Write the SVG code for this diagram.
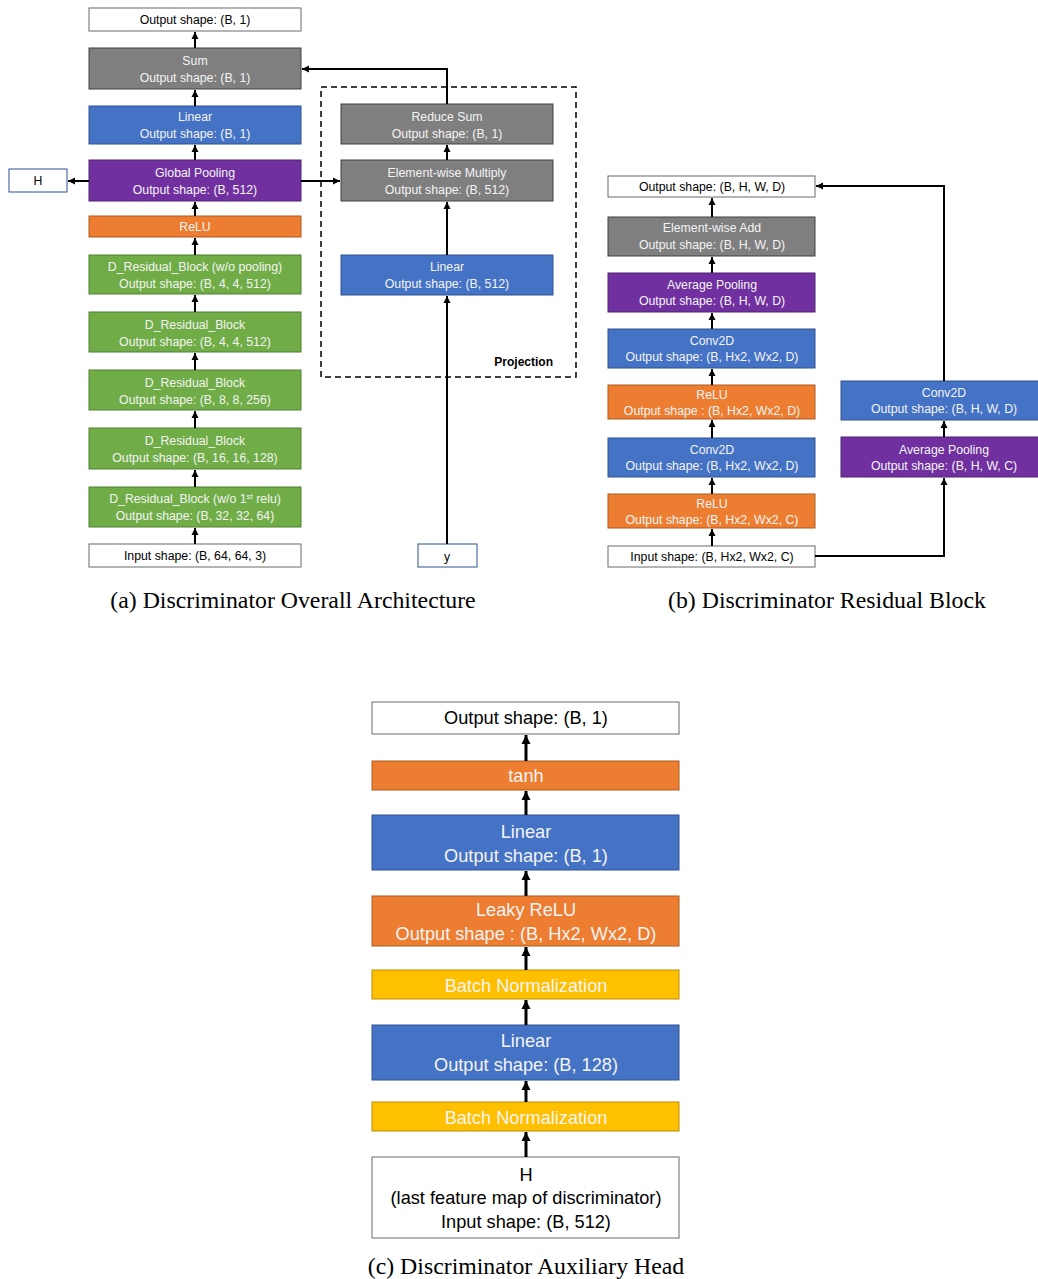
<svg xmlns="http://www.w3.org/2000/svg" width="1038" height="1279" viewBox="0 0 1038 1279">
<defs>
<marker id="ah" markerUnits="userSpaceOnUse" markerWidth="8" markerHeight="8" refX="7" refY="4" orient="auto"><path d="M0,0.5 L7,4 L0,7.5 z" fill="#000"/></marker>
<marker id="ahc" markerUnits="userSpaceOnUse" markerWidth="10" markerHeight="10" refX="9" refY="5" orient="auto"><path d="M0,0.5 L9,5 L0,9.5 z" fill="#000"/></marker>
<style>
text{font-family:"Liberation Sans",Arial,sans-serif;text-anchor:middle}
.s{font-size:12.3px}
.l{font-size:18.2px}
.w{fill:#f4f4f4}
.k{fill:#000}
.cap{font-family:"Liberation Serif","Times New Roman",serif;font-size:23.8px;fill:#000}
.wb{fill:#fff;stroke:#6b6b6b;stroke-width:1}
.hb{fill:#fff;stroke:#2F528F;stroke-width:1}
.gray{fill:#7F7F7F;stroke:#404040;stroke-width:1}
.blue{fill:#4472C4;stroke:#2F528F;stroke-width:1}
.purp{fill:#7030A0;stroke:#4E2272;stroke-width:1}
.orng{fill:#ED7D31;stroke:#AE5A21;stroke-width:1}
.grn{fill:#70AD47;stroke:#507E32;stroke-width:1}
.yel{fill:#FFC000;stroke:#BC8C00;stroke-width:1}
.c{fill:none;stroke:#000;stroke-width:2;marker-end:url(#ah)}
.cc{fill:none;stroke:#000;stroke-width:3;marker-end:url(#ahc)}
.dash{fill:none;stroke:#000;stroke-width:1.5;stroke-dasharray:6,4}
</style>
</defs>

<!-- Panel (a) -->
<g id="a-output"><rect class="wb" x="89" y="8" width="212" height="23"/><text class="s k" x="195" y="24">Output shape: (B, 1)</text></g>
<g id="a-sum"><rect class="gray" x="89" y="48" width="212" height="41"/><text class="s w" x="195" y="65">Sum</text><text class="s w" x="195" y="82">Output shape: (B, 1)</text></g>
<g id="a-linear"><rect class="blue" x="89" y="106" width="212" height="38"/><text class="s w" x="195" y="121">Linear</text><text class="s w" x="195" y="138">Output shape: (B, 1)</text></g>
<g id="a-gpool"><rect class="purp" x="89" y="160" width="212" height="41"/><text class="s w" x="195" y="177">Global Pooling</text><text class="s w" x="195" y="194">Output shape: (B, 512)</text></g>
<g id="a-H"><rect class="hb" x="9" y="169" width="58" height="23"/><text class="s k" x="38" y="185">H</text></g>
<g id="a-relu"><rect class="orng" x="89" y="216" width="212" height="21"/><text class="s w" x="195" y="231">ReLU</text></g>
<g id="a-res5"><rect class="grn" x="89" y="255" width="212" height="39"/><text class="s w" x="195" y="271">D_Residual_Block (w/o pooling)</text><text class="s w" x="195" y="288">Output shape: (B, 4, 4, 512)</text></g>
<g id="a-res4"><rect class="grn" x="89" y="312" width="212" height="40"/><text class="s w" x="195" y="329">D_Residual_Block</text><text class="s w" x="195" y="346">Output shape: (B, 4, 4, 512)</text></g>
<g id="a-res3"><rect class="grn" x="89" y="370" width="212" height="40"/><text class="s w" x="195" y="387">D_Residual_Block</text><text class="s w" x="195" y="404">Output shape: (B, 8, 8, 256)</text></g>
<g id="a-res2"><rect class="grn" x="89" y="428" width="212" height="41"/><text class="s w" x="195" y="445">D_Residual_Block</text><text class="s w" x="195" y="462">Output shape: (B, 16, 16, 128)</text></g>
<g id="a-res1"><rect class="grn" x="89" y="487" width="212" height="40"/><text class="s w" x="195" y="503">D_Residual_Block (w/o 1<tspan font-size="8" dy="-4">st</tspan><tspan dy="4"> relu)</tspan></text><text class="s w" x="195" y="520">Output shape: (B, 32, 32, 64)</text></g>
<g id="a-input"><rect class="wb" x="89" y="544" width="212" height="23"/><text class="s k" x="195" y="560">Input shape: (B, 64, 64, 3)</text></g>

<g id="a-projection"><rect class="dash" x="321" y="87" width="255" height="290"/><text x="553" y="366" style="font-size:12px;font-weight:bold;text-anchor:end" class="k">Projection</text></g>
<g id="a-rsum"><rect class="gray" x="341" y="104" width="212" height="40"/><text class="s w" x="447" y="121">Reduce Sum</text><text class="s w" x="447" y="138">Output shape: (B, 1)</text></g>
<g id="a-mult"><rect class="gray" x="341" y="160" width="212" height="41"/><text class="s w" x="447" y="177">Element-wise Multiply</text><text class="s w" x="447" y="194">Output shape: (B, 512)</text></g>
<g id="a-plinear"><rect class="blue" x="341" y="255" width="212" height="40"/><text class="s w" x="447" y="271">Linear</text><text class="s w" x="447" y="288">Output shape: (B, 512)</text></g>
<g id="a-y"><rect class="hb" x="418" y="544" width="59" height="23"/><text class="s k" x="447" y="561">y</text></g>

<!-- Panel (b) -->
<g id="b-output"><rect class="wb" x="608" y="176" width="207" height="21"/><text class="s k" x="712" y="191">Output shape: (B, H, W, D)</text></g>
<g id="b-add"><rect class="gray" x="608" y="217" width="207" height="39"/><text class="s w" x="712" y="232">Element-wise Add</text><text class="s w" x="712" y="249">Output shape: (B, H, W, D)</text></g>
<g id="b-apool"><rect class="purp" x="608" y="273" width="207" height="39"/><text class="s w" x="712" y="289">Average Pooling</text><text class="s w" x="712" y="305">Output shape: (B, H, W, D)</text></g>
<g id="b-conv2"><rect class="blue" x="608" y="329" width="207" height="39"/><text class="s w" x="712" y="345">Conv2D</text><text class="s w" x="712" y="361">Output shape: (B, Hx2, Wx2, D)</text></g>
<g id="b-relu2"><rect class="orng" x="608" y="385" width="207" height="34"/><text class="s w" x="712" y="399">ReLU</text><text class="s w" x="712" y="415">Output shape : (B, Hx2, Wx2, D)</text></g>
<g id="b-conv1"><rect class="blue" x="608" y="438" width="207" height="39"/><text class="s w" x="712" y="454">Conv2D</text><text class="s w" x="712" y="470">Output shape: (B, Hx2, Wx2, D)</text></g>
<g id="b-relu1"><rect class="orng" x="608" y="494" width="207" height="34"/><text class="s w" x="712" y="508">ReLU</text><text class="s w" x="712" y="524">Output shape: (B, Hx2, Wx2, C)</text></g>
<g id="b-input"><rect class="wb" x="608" y="546" width="207" height="21"/><text class="s k" x="712" y="561">Input shape: (B, Hx2, Wx2, C)</text></g>
<g id="b-sconv"><rect class="blue" x="841" y="381" width="207" height="39"/><text class="s w" x="944" y="397">Conv2D</text><text class="s w" x="944" y="413">Output shape: (B, H, W, D)</text></g>
<g id="b-spool"><rect class="purp" x="841" y="437" width="207" height="40"/><text class="s w" x="944" y="454">Average Pooling</text><text class="s w" x="944" y="470">Output shape: (B, H, W, C)</text></g>

<!-- Panel (c) -->
<g id="c-output"><rect class="wb" x="372" y="702" width="307" height="32"/><text class="l k" x="526" y="724">Output shape: (B, 1)</text></g>
<g id="c-tanh"><rect class="orng" x="372" y="761" width="307" height="29"/><text class="l w" x="526" y="782">tanh</text></g>
<g id="c-linear2"><rect class="blue" x="372" y="815" width="307" height="55"/><text class="l w" x="526" y="838">Linear</text><text class="l w" x="526" y="862">Output shape: (B, 1)</text></g>
<g id="c-leaky"><rect class="orng" x="372" y="896" width="307" height="50"/><text class="l w" x="526" y="916">Leaky ReLU</text><text class="l w" x="526" y="940">Output shape : (B, Hx2, Wx2, D)</text></g>
<g id="c-bn2"><rect class="yel" x="372" y="970" width="307" height="29"/><text class="l w" x="526" y="992">Batch Normalization</text></g>
<g id="c-linear1"><rect class="blue" x="372" y="1025" width="307" height="55"/><text class="l w" x="526" y="1047">Linear</text><text class="l w" x="526" y="1071">Output shape: (B, 128)</text></g>
<g id="c-bn1"><rect class="yel" x="372" y="1102" width="307" height="29"/><text class="l w" x="526" y="1124">Batch Normalization</text></g>
<g id="c-H"><rect class="wb" x="372" y="1157" width="307" height="81"/><text class="l k" x="526" y="1181">H</text><text class="l k" x="526" y="1204">(last feature map of discriminator)</text><text class="l k" x="526" y="1228">Input shape: (B, 512)</text></g>

<!-- Captions -->
<text class="cap" x="293" y="608">(a) Discriminator Overall Architecture</text>
<text class="cap" x="827" y="608">(b) Discriminator Residual Block</text>
<text class="cap" x="526" y="1274">(c) Discriminator Auxiliary Head</text>

<g id="connectors">
<!-- panel a main column -->
<path class="c" d="M195,544 V528"/>
<path class="c" d="M195,487 V470"/>
<path class="c" d="M195,428 V411"/>
<path class="c" d="M195,370 V353"/>
<path class="c" d="M195,312 V295"/>
<path class="c" d="M195,255 V238"/>
<path class="c" d="M195,216 V202"/>
<path class="c" d="M195,160 V145"/>
<path class="c" d="M195,106 V90"/>
<path class="c" d="M195,48 V32"/>
<path class="c" d="M89,181 H68"/>
<path class="c" d="M301,181 H340"/>
<path class="c" d="M447,544 V296"/>
<path class="c" d="M447,255 V202"/>
<path class="c" d="M447,160 V145"/>
<path class="c" d="M447,104 V69 H302"/>
<!-- panel b -->
<path class="c" d="M712,546 V529"/>
<path class="c" d="M712,494 V478"/>
<path class="c" d="M712,438 V420"/>
<path class="c" d="M712,385 V369"/>
<path class="c" d="M712,329 V313"/>
<path class="c" d="M712,273 V257"/>
<path class="c" d="M712,217 V198"/>
<path class="c" d="M815,556 H944 V478"/>
<path class="c" d="M944,437 V421"/>
<path class="c" d="M944,381 V186 H816"/>
<!-- panel c -->
<path class="cc" d="M526,1157 V1132"/>
<path class="cc" d="M526,1102 V1081"/>
<path class="cc" d="M526,1025 V1000"/>
<path class="cc" d="M526,970 V947"/>
<path class="cc" d="M526,896 V871"/>
<path class="cc" d="M526,815 V791"/>
<path class="cc" d="M526,761 V735"/>
</g>
</svg>
